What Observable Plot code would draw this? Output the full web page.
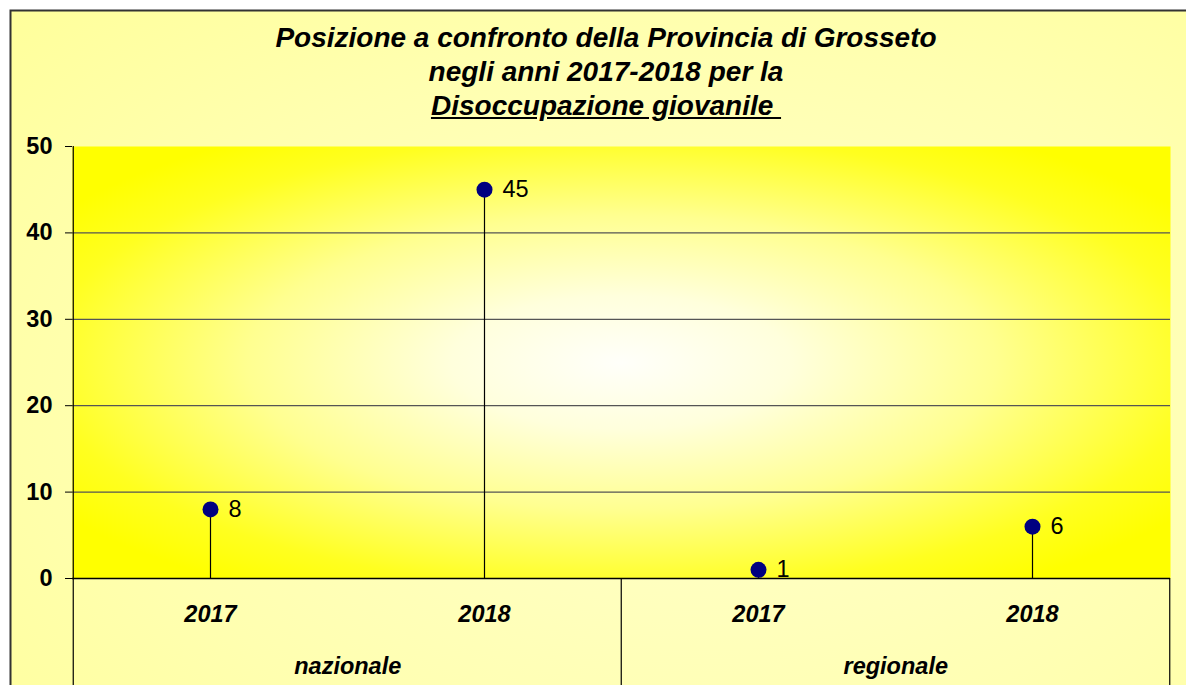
<!DOCTYPE html>
<html>
<head>
<meta charset="utf-8">
<script src="https://cdn.jsdelivr.net/npm/d3@7"></script>
<script src="https://cdn.jsdelivr.net/npm/@observablehq/plot@0.6"></script>
<style>
  html, body { margin: 0; padding: 0; background: #ffffff; overflow: hidden; }
  #wrap { position: relative; width: 1186px; height: 685px; overflow: hidden; }
  #wrap svg { max-width: none !important; }
  #title {
    position: absolute; left: 0; width: 1212px; top: 21px;
    text-align: center; font-family: Arial, "Liberation Sans", sans-serif;
    font-weight: bold; font-style: italic; font-size: 28px; line-height: 34px; color: #000;
    pointer-events: none;
  }
  #title .u { text-decoration: underline; white-space: pre; }
</style>
</head>
<body>
<div id="wrap"><div id="title"></div></div>
<script>
// ---- data ----
const groups = ["nazionale", "nazionale", "regionale", "regionale"];
const years = ["2017", "2018", "2017", "2018"];
const values = [8, 45, 1, 6];
const yTicks = [0, 10, 20, 30, 40, 50];
const groupLabels = ["nazionale", "regionale"];
const titleLines = ["Posizione a confronto della Provincia di Grosseto", "negli anni 2017-2018 per la", "Disoccupazione giovanile "];

// ---- build ----
const keys = groups.map((g, i) => g + " " + years[i]);
const data = keys.map((k, i) => ({key: k, group: groups[i], year: years[i], value: values[i]}));
const groupFirst = groupLabels.map(g => ({label: g, key: keys[groups.indexOf(g)]}));

const W = 1186, H = 685, mt = 146, mb = 107, ml = 72, mr = 16;
const bw = (W - ml - mr) / keys.length;
const font = "Arial, 'Liberation Sans', sans-serif";

const chart = Plot.plot({
  width: W, height: H,
  marginTop: mt, marginBottom: mb, marginLeft: ml, marginRight: mr,
  style: {fontFamily: font, background: "transparent", color: "#000", overflow: "hidden"},
  x: {type: "band", domain: keys, padding: 0, axis: null},
  y: {domain: [0, 50], axis: null},
  marks: [
    Plot.frame({fill: "url(#plotGrad)", stroke: "none"}),
    Plot.ruleY(yTicks.filter(t => t > 0 && t < 50), {stroke: "#555", strokeWidth: 1.2}),
    Plot.axisY({ticks: yTicks, tickSize: 7, tickPadding: 13, fontSize: 23.5, fontWeight: "bold", tickFormat: d => String(d), label: null}),
    // left axis line (full height, down through category area)
    Plot.ruleX([keys[0]], {x: d => d, dx: -bw / 2, stroke: "#000", strokeWidth: 1.2, insetBottom: -mb}),
    // group separators and right edge below zero
    Plot.ruleX(groupFirst.slice(1), {x: "key", dx: -bw / 2, y1: 0, y2: 0, insetBottom: -mb, stroke: "#000", strokeWidth: 1.2}),
    Plot.ruleX([keys[keys.length - 1]], {x: d => d, dx: bw / 2, y1: 0, y2: 0, insetBottom: -mb, stroke: "#000", strokeWidth: 1.2}),
    Plot.ruleY([0], {stroke: "#000", strokeWidth: 1.4}),
    // lollipops
    Plot.ruleX(data, {x: "key", y1: 0, y2: "value", stroke: "#000", strokeWidth: 1.2}),
    Plot.dot(data, {x: "key", y: "value", r: 8, fill: "#000080", stroke: "none"}),
    Plot.text(data, {x: "key", y: "value", text: d => String(d.value), dx: 18, textAnchor: "start", fontSize: 23.5, fill: "#000"}),
    // category labels
    Plot.text(data, {x: "key", y: 0, text: "year", dy: 36, fontSize: 23.5, fontWeight: "bold", fontStyle: "italic", fill: "#000"}),
    Plot.text(groupFirst, {x: "key", y: 0, text: "label", dx: bw / 2, dy: 88, fontSize: 23.5, fontWeight: "bold", fontStyle: "italic", fill: "#000"})
  ]
});

// gradients + outer background & border
const svg = d3.select(chart);
const defs = svg.insert("defs", ":first-child");
const pg = defs.append("radialGradient").attr("id", "plotGrad").attr("cx", 0.5).attr("cy", 0.5).attr("r", 0.62);
[[0, "#fffffa"], [0.25, "#ffffdc"], [0.55, "#ffff90"], [0.85, "#ffff20"], [1, "#ffff00"]].forEach(([o, c]) => pg.append("stop").attr("offset", o).attr("stop-color", c));
const bg = defs.append("radialGradient").attr("id", "bgGrad").attr("cx", 0.5).attr("cy", 0.45).attr("r", 0.7);
[[0, "#ffffcc"], [0.6, "#ffffb0"], [1, "#ffff99"]].forEach(([o, c]) => bg.append("stop").attr("offset", o).attr("stop-color", c));
svg.insert("rect", "defs + *").attr("x", 10.5).attr("y", 10.5).attr("width", W + 200).attr("height", H + 200)
  .attr("fill", "url(#bgGrad)").attr("stroke", "#333").attr("stroke-width", 2);

document.getElementById("wrap").appendChild(chart);
chart.style.position = "absolute"; chart.style.left = "0"; chart.style.top = "0";
const t = document.getElementById("title");
document.getElementById("wrap").appendChild(t);
titleLines.forEach((l, i) => {
  const d = document.createElement("div");
  if (i === titleLines.length - 1) { const s = document.createElement("span"); s.className = "u"; s.textContent = l; d.appendChild(s); }
  else d.textContent = l;
  t.appendChild(d);
});
</script>
</body>
</html>
